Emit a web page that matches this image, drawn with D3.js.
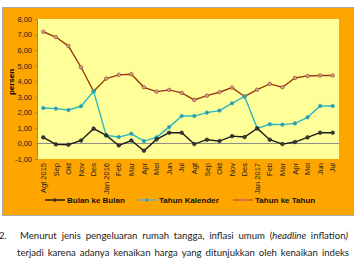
<!DOCTYPE html>
<html>
<head>
<meta charset="utf-8">
<script src="https://cdn.jsdelivr.net/npm/d3@7"></script>
<style>
  html, body { margin: 0; padding: 0; background: #fff; }
  svg { display: block; }
</style>
</head>
<body>
<div id="chart"></div>
<script>
//
// data
//
var months = ['Agt 2015', 'Sep', 'Okt', 'Nov', 'Des', 'Jan 2016', 'Feb', 'Mar', 'Apr', 'Mei', 'Jun', 'Jul',
              'Agt', 'Sep', 'Okt', 'Nov', 'Des', 'Jan 2017', 'Feb', 'Mar', 'Apr', 'Mei', 'Jun', 'Jul']
var bulanKeBulan = [0.39, -0.06, -0.08, 0.19, 0.95, 0.52, -0.13, 0.19, -0.47, 0.26, 0.69, 0.69,
                    -0.04, 0.24, 0.15, 0.47, 0.41, 0.97, 0.24, -0.04, 0.09, 0.39, 0.69, 0.69]
var tahunKalender = [2.28, 2.24, 2.15, 2.39, 3.35, 0.52, 0.41, 0.62, 0.15, 0.39, 1.05, 1.76,
                     1.76, 1.98, 2.11, 2.58, 3.02, 0.97, 1.23, 1.21, 1.29, 1.68, 2.41, 2.41]
var tahunKeTahun = [7.18, 6.84, 6.26, 4.90, 3.35, 4.17, 4.41, 4.45, 3.61, 3.33, 3.44, 3.25,
                    2.80, 3.07, 3.29, 3.59, 3.02, 3.46, 3.83, 3.61, 4.21, 4.34, 4.37, 4.37]
var yTicks = [-1, 0, 1, 2, 3, 4, 5, 6, 7, 8]
var seriesNames = ['Bulan ke Bulan', 'Tahun Kalender', 'Tahun ke Tahun']

var series = [
  {name: seriesNames[0], values: bulanKeBulan, stroke: '#1a1a1a', fill: '#3a3a3a', legend: '#3b2a12'},
  {name: seriesNames[1], values: tahunKalender, stroke: '#2bb8c4', fill: '#3a8fa8', legend: '#6db5b3'},
  {name: seriesNames[2], values: tahunKeTahun, stroke: '#9a3b12', fill: '#c8a0a0', legend: '#d9661c'}
]

var svg = d3.select('#chart').append('svg')
  .attr('width', 357)
  .attr('height', 260)

// frame
svg.append('rect')
  .attr('x', 2.5).attr('y', 7.5).attr('width', 351).attr('height', 208)
  .attr('fill', '#ffa500').attr('stroke', '#a8a8a8').attr('stroke-width', 1)

var plot = {left: 37, top: 19, right: 339, bottom: 159}

svg.append('rect')
  .attr('x', plot.left).attr('y', plot.top)
  .attr('width', plot.right - plot.left).attr('height', plot.bottom - plot.top)
  .attr('fill', '#ffff99')

var x = d3.scaleBand()
  .domain(d3.range(months.length))
  .range([plot.left, plot.right])

var y = d3.scaleLinear()
  .domain([-1, 8])
  .range([plot.bottom, plot.top])

var fmt = function(d) { return d3.format('.2f')(d).replace('.', ',').replace('−', '-') }

// y axis
var yAxis = svg.append('g')
  .attr('transform', 'translate(' + plot.left + ',0)')
  .call(d3.axisLeft(y).tickValues(yTicks).tickFormat(fmt).tickSize(2).tickPadding(3))
yAxis.select('.domain').attr('stroke', '#8a8a8a')
yAxis.selectAll('.tick line').attr('stroke', '#8a8a8a')
yAxis.selectAll('text')
  .style('font-family', 'Liberation Sans, Arial, sans-serif')
  .style('font-size', '7.5px')
  .attr('fill', '#222')

// zero line
svg.append('line')
  .attr('x1', plot.left).attr('x2', plot.right)
  .attr('y1', y(0)).attr('y2', y(0))
  .attr('stroke', '#8a8a8a').attr('stroke-width', 1)

// x axis labels
var xAxis = svg.append('g')
  .attr('transform', 'translate(0,' + plot.bottom + ')')
  .call(d3.axisBottom(x).tickSize(0).tickFormat(function(i) { return months[i] }))
xAxis.select('.domain').remove()
xAxis.selectAll('text')
  .style('font-family', 'Liberation Sans, Arial, sans-serif')
  .style('font-size', '7.5px')
  .attr('fill', '#222')
  .attr('text-anchor', 'end')
  .attr('transform', 'rotate(-90)')
  .attr('x', -4)
  .attr('y', 0)
  .attr('dy', '0.35em')

// y title
svg.append('text')
  .attr('transform', 'translate(14,82) rotate(-90)')
  .attr('text-anchor', 'middle')
  .style('font-family', 'Liberation Sans, Arial, sans-serif')
  .style('font-size', '8px')
  .style('font-weight', 'bold')
  .text('persen')

// lines
var lineFunc = d3.line()
  .x(function(d, i) { return x(i) + x.bandwidth() / 2 })
  .y(function(d) { return y(d) })

var order = [2, 1, 0]
order.forEach(function(k) {
  var s = series[k]
  svg.append('path')
    .attr('d', lineFunc(s.values))
    .attr('fill', 'none')
    .attr('stroke', s.stroke)
    .attr('stroke-width', 1.4)
  svg.selectAll('.m' + k)
    .data(s.values)
    .enter().append('circle')
    .attr('cx', function(d, i) { return x(i) + x.bandwidth() / 2 })
    .attr('cy', function(d) { return y(d) })
    .attr('r', 1.8)
    .attr('fill', s.fill)
    .attr('stroke', s.stroke)
    .attr('stroke-width', 0.6)
})

// legend
var legendX = [45, 137, 233]
var legend = svg.selectAll('.legend')
  .data(series)
  .enter().append('g')
  .attr('transform', function(d, i) { return 'translate(' + legendX[i] + ',200)' })
legend.append('line')
  .attr('x1', 0).attr('x2', 20).attr('y1', 0).attr('y2', 0)
  .attr('stroke', function(d) { return d.legend })
  .attr('stroke-width', 1.6)
legend.append('circle')
  .attr('cx', 10).attr('cy', 0).attr('r', 1.5)
  .attr('fill', function(d) { return d.fill })
  .attr('stroke', function(d) { return d.legend })
  .attr('stroke-width', 0.5)
legend.append('text')
  .attr('x', 22).attr('y', 0).attr('dy', '0.35em')
  .style('font-family', 'Liberation Sans, Arial, sans-serif')
  .style('font-size', '8px')
  .style('font-weight', 'bold')
  .attr('fill', '#111')
  .text(function(d) { return d.name })

// paragraph below the chart, justified word by word
var pFont = 'Lato, Liberation Sans, sans-serif'
var pSize = '9.6px'
svg.append('text')
  .attr('x', -1).attr('y', 238.5)
  .style('font-family', pFont).style('font-size', pSize).attr('fill', '#222')
  .text('2.')

function justifyLine(words, x0, x1, yy) {
  var g = svg.append('g')
  var texts = words.map(function(w) {
    var t = g.append('text')
      .attr('y', yy)
      .style('font-family', pFont).style('font-size', pSize).attr('fill', '#222')
    if (w.indexOf('*') >= 0) {
      // '*' marks italic parts
      w.split('*').forEach(function(part, j) {
        if (part) t.append('tspan').style('font-style', j % 2 ? 'italic' : 'normal').text(part)
      })
    } else {
      t.text(w)
    }
    return t
  })
  var widths = texts.map(function(t) { return t.node().getComputedTextLength() })
  var gap = (x1 - x0 - d3.sum(widths)) / (words.length - 1)
  var cx = x0
  texts.forEach(function(t, i) {
    t.attr('x', cx)
    cx += widths[i] + gap
  })
}

justifyLine(['Menurut', 'jenis', 'pengeluaran', 'rumah', 'tangga,', 'inflasi', 'umum', '(*headline', 'inflation*)'], 20, 348, 238.5)
justifyLine(['terjadi', 'karena', 'adanya', 'kenaikan', 'harga', 'yang', 'ditunjukkan', 'oleh', 'kenaikan', 'indeks'], 17, 349, 256)
</script>
</body>
</html>
